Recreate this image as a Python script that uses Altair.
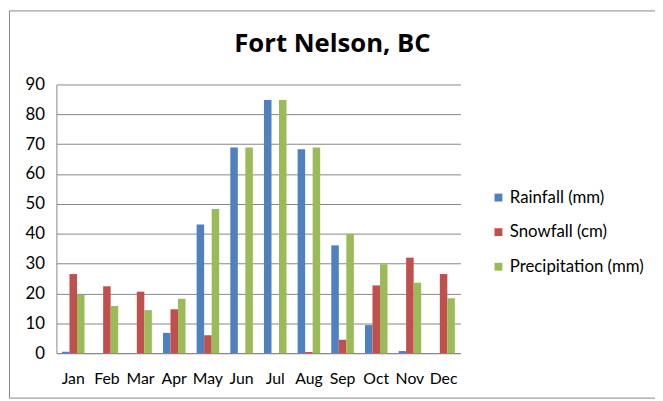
import altair as alt
import pandas as pd

months = ["Jan", "Feb", "Mar", "Apr", "May", "Jun", "Jul", "Aug", "Sep", "Oct", "Nov", "Dec"]
rainfall = [0.5, 0.0, 0.0, 6.8, 43.1, 68.9, 84.8, 68.3, 36.1, 9.4, 0.7, 0.0]
snowfall = [26.5, 22.4, 20.6, 14.7, 6.0, 0.0, 0.0, 0.4, 4.5, 22.7, 32.0, 26.5]
precipitation = [19.5, 15.8, 14.4, 18.2, 48.3, 68.9, 84.8, 68.9, 40.0, 29.8, 23.6, 18.4]
series = ["Rainfall (mm)", "Snowfall (cm)", "Precipitation (mm)"]
colors = ["#4F81BD", "#C0504D", "#9BBB59"]
title_text = "Fort Nelson, BC"
y_ticks = [0, 10, 20, 30, 40, 50, 60, 70, 80, 90]

rows = []
for name, vals in zip(series, [rainfall, snowfall, precipitation]):
    for m, v in zip(months, vals):
        rows.append({"month": m, "series": name, "value": v})
df = pd.DataFrame(rows)

FONT = "Lato"
GRID = "#868686"

bars = alt.Chart(df).mark_bar().encode(
    x=alt.X("month:N", sort=months, title=None,
            scale=alt.Scale(paddingInner=0.33, paddingOuter=0.165),
            axis=alt.Axis(labelAngle=0, labelFont=FONT, labelFontSize=16, labelColor="#000000",
                          labelPadding=18, ticks=False, domainColor=GRID, domainWidth=1)),
    xOffset=alt.XOffset("series:N", sort=series, scale=alt.Scale(paddingInner=0, paddingOuter=0)),
    y=alt.Y("value:Q", title=None,
            scale=alt.Scale(domain=[0, 90], nice=False),
            axis=alt.Axis(values=y_ticks, labelFont=FONT, labelFontSize=17, labelColor="#000000",
                          labelPadding=12, ticks=False, grid=True, gridColor=GRID, gridWidth=1,
                          domainColor=GRID, domainWidth=1)),
    color=alt.Color("series:N", sort=series,
                    scale=alt.Scale(domain=series, range=colors),
                    legend=alt.Legend(title=None, orient="none", legendX=439, legendY=106,
                                      symbolType="square", symbolSize=64, symbolStrokeWidth=0,
                                      labelFont=FONT, labelFontSize=17, labelColor="#000000",
                                      rowPadding=17, labelOffset=3)),
)

title_df = pd.DataFrame({"t": [title_text]})
title = alt.Chart(title_df).mark_text(font="Open Sans", fontSize=26, fontWeight="bold",
                                      color="#000000", align="center", baseline="alphabetic").encode(
    text="t:N", x=alt.value(279.5), y=alt.value(-33)
)

border = alt.Chart(title_df).mark_rect(fill=None, stroke=GRID, strokeWidth=1).encode(
    x=alt.value(-47.5), x2=alt.value(720), y=alt.value(-74.5), y2=alt.value(317.5)
)

chart = alt.layer(border, bars, title).properties(
    width=409, height=272,
    autosize=alt.AutoSizeParams(type="none"),
    padding={"left": 49, "top": 75, "right": 197, "bottom": 46},
).configure_view(stroke=None)

chart.save("out.html", embed_options={"renderer": "svg", "actions": False})
